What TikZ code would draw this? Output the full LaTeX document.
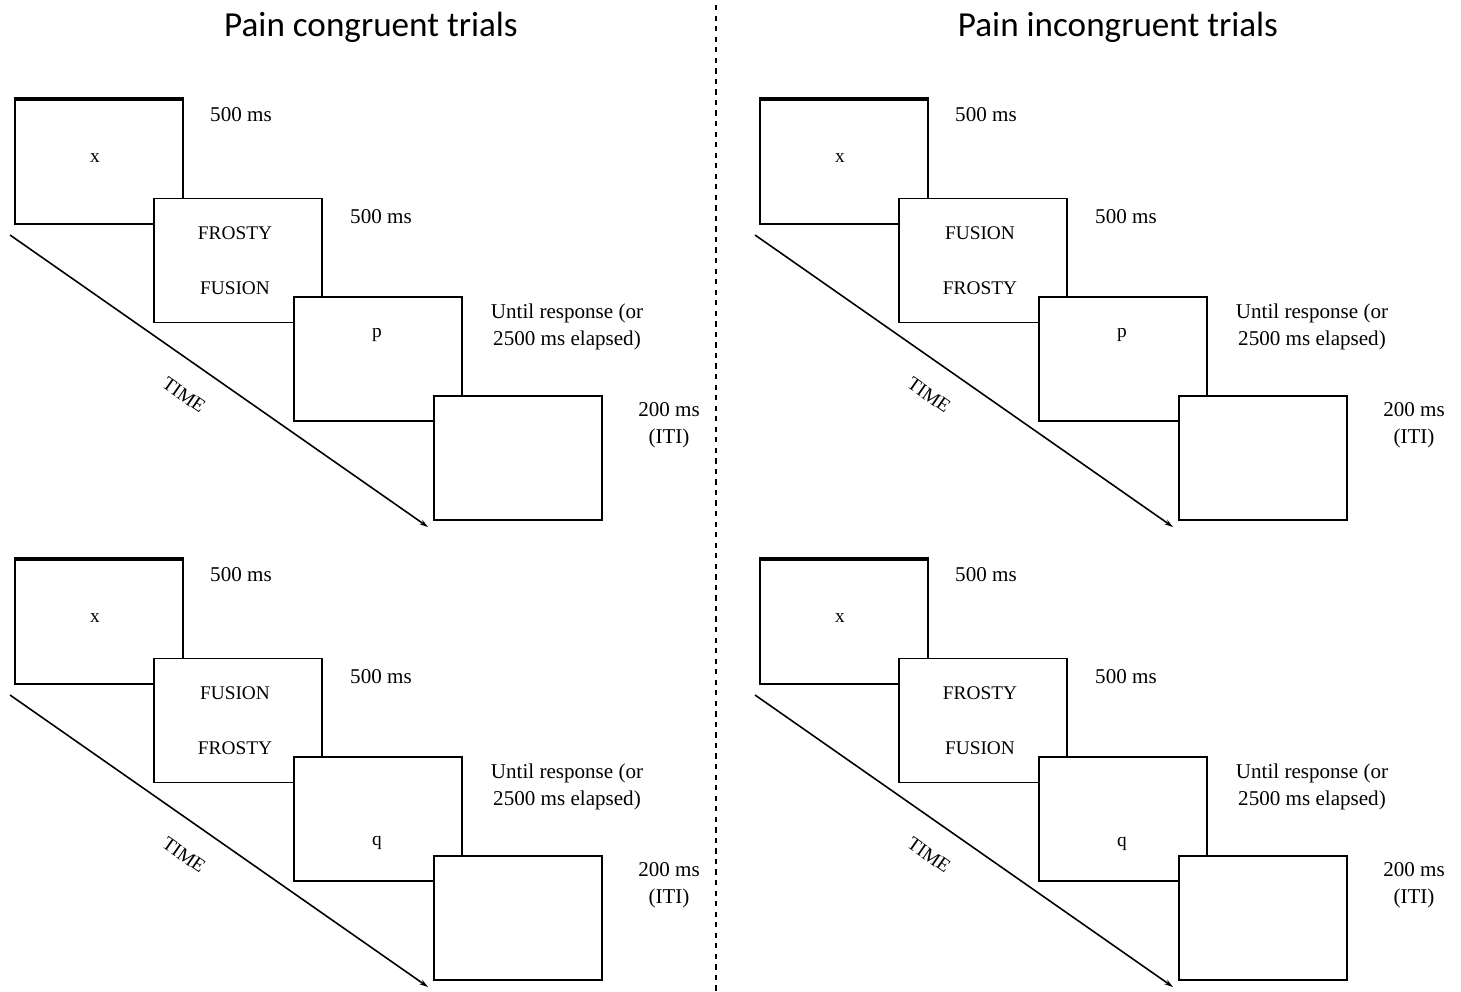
\documentclass[tikz,border=0pt]{standalone}
\usepackage{fontspec}
\setmainfont{Liberation Serif}
\newfontfamily\titlefont{Carlito}
\usetikzlibrary{arrows.meta}

\begin{document}
\begin{tikzpicture}[x=0.02cm,y=-0.02cm,>={Stealth[length=5pt,width=3pt]},
        screen/.style={draw,line width=1pt,fill=white,minimum width=3.36cm,minimum height=2.48cm,inner sep=0pt},
        word/.style={font=\fontsize{11}{12}\selectfont},
        dur/.style={font=\fontsize{12}{15.3}\selectfont,align=center},
        head/.style={font=\titlefont\fontsize{20}{24}\selectfont}]
    \useasboundingbox (0,0) rectangle (1461,991);
    \node[head] (h1) at (371,27) {Pain congruent trials};
    \node[head] (h2) at (1118,27) {Pain incongruent trials};
    \draw[dashed,line width=0.8pt] (716,5) -- (716,991);
    % one trial sequence per panel
    \foreach \dx/\dy/\up/\dn/\probe/\py/\n in {0/0/FROSTY/FUSION/p/335/a,745/0/FUSION/FROSTY/p/335/b,0/460/FUSION/FROSTY/q/383/c,745/460/FROSTY/FUSION/q/384/d}{
    \begin{scope}[shift={(\dx,\dy)}]
        \coordinate (t0-\n) at (10,235);
        \coordinate (t1-\n) at (428,527);
        \draw[->,line width=0.9pt] (t0-\n) -- (t1-\n);
        \node[word,rotate=-35,inner sep=0pt] (time-\n) at (184,395) {TIME};
        \node[screen] (s1-\n) at (99,162) {};
        \draw[line width=2.2pt] (s1-\n.north west) -- (s1-\n.north east);
        \node[screen] (s2-\n) at (238,260.5) {};
        \node[screen] (s3-\n) at (378,359) {};
        \node[screen] (s4-\n) at (518,458) {};
        \node[word] (fix-\n) at (95,158) {x};
        \node[word] (w1-\n) at (235,233) {\up};
        \node[word] (w2-\n) at (235,288) {\dn};
        \node[word] (r-\n) at (377,\py) {\probe};
        \node[dur,anchor=west] (d1-\n) at (204,115) {500 ms};
        \node[dur,anchor=west] (d2-\n) at (344,217) {500 ms};
        \node[dur] (d3-\n) at (567,327) {Until response (or\\2500 ms elapsed)};
        \node[dur] (d4-\n) at (669,425) {200 ms\\(ITI)};
    \end{scope}
    }
\end{tikzpicture}
\end{document}
